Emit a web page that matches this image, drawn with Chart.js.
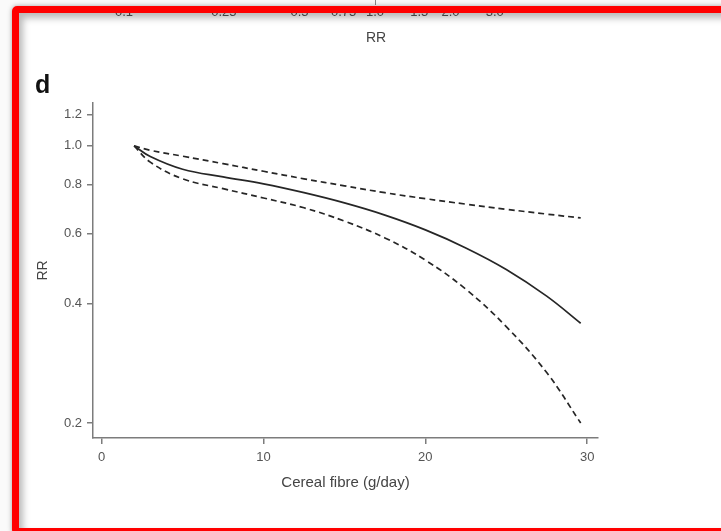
<!DOCTYPE html>
<html>
<head>
<meta charset="utf-8">
<script src="https://cdn.jsdelivr.net/npm/chart.js@4.4.0/dist/chart.umd.min.js"></script>
<style>
  body { margin: 0; background: #fff; }
  #wrap { position: relative; width: 721px; height: 531px; overflow: hidden; font-family: "Liberation Sans", Arial, sans-serif; background: #fafafa; }
  #inner { position: absolute; left: 12px; top: 6px; width: 760px; height: 529px; background: #fff; border-radius: 5px; }
  #c { position: absolute; left: 0; top: 0; }
  .frame { position: absolute; left: 12px; top: 6px; width: 760px; height: 529px; box-sizing: border-box;
           border: 7px solid #ff0000; border-radius: 5px; pointer-events: none;
           box-shadow: 0 0 5px rgba(0,0,0,.35), inset 4px 5px 7px rgba(0,0,0,.28); }
  .toptick { position: absolute; top: 4px; font-size: 13px; color: #555; transform: translateX(-50%); }
  .toprr { position: absolute; left: 376px; top: 29px; font-size: 14px; color: #444; transform: translateX(-50%); }
  .tickmark { position: absolute; left: 375px; top: 0; width: 1px; height: 5px; background: #888; }
  .panel { position: absolute; left: 35px; top: 72px; font-size: 25px; line-height: 25px; font-weight: bold; color: #111; }
</style>
</head>
<body>
<div id="wrap">
  <div id="inner"></div>
  <canvas id="c" width="721" height="531"></canvas>
  <div id="topLabels"></div>
  <div class="tickmark"></div>
  <div class="toprr">RR</div>
  <div class="panel">d</div>
  <div class="frame"></div>
</div>
<script>
// valores (RR frente a fibra de cereal)
const fibre = [2, 3, 5, 7.5, 10, 12.5, 15, 17.5, 20, 22.5, 25, 27.5, 29.6];
const rrEstimate = [1.0, 0.94, 0.873, 0.835, 0.802, 0.762, 0.718, 0.669, 0.614, 0.553, 0.488, 0.418, 0.357];
const rrUpper = [1.0, 0.975, 0.942, 0.902, 0.863, 0.826, 0.793, 0.762, 0.736, 0.713, 0.692, 0.673, 0.658];
const rrLower = [1.0, 0.91, 0.826, 0.78, 0.739, 0.698, 0.646, 0.586, 0.515, 0.435, 0.35, 0.268, 0.2];

const xTicks = [0, 10, 20, 30];
const yTicks = [0.2, 0.4, 0.6, 0.8, 1.0, 1.2];

// etiquetas cortadas del panel anterior (arriba)
const topTickLabels = ["0.1", "0.25", "0.5", "0.75", "1.0", "1.5", "2.0", "3.0"];
const topTickValues = [0.1, 0.25, 0.5, 0.75, 1.0, 1.5, 2.0, 3.0];

const topBox = document.getElementById("topLabels");
topTickValues.forEach((v, i) => {
  const d = document.createElement("div");
  d.className = "toptick";
  d.style.left = (375 + 251 * Math.log10(v)) + "px";
  d.textContent = topTickLabels[i];
  topBox.appendChild(d);
});

const fontFam = '"Liberation Sans", Arial, sans-serif';
const axisColor = "#7c7c7c";
const lineColor = "#262626";

function serie(values) {
  return fibre.map((x, i) => ({ x: x, y: values[i] }));
}

new Chart(document.getElementById("c"), {
  type: "line",
  data: {
    datasets: [
      { label: "RR", data: serie(rrEstimate), borderColor: lineColor, borderWidth: 1.7, pointRadius: 0, tension: 0.4 },
      { label: "IC superior", data: serie(rrUpper), borderColor: lineColor, borderWidth: 1.7, borderDash: [6, 4], pointRadius: 0, tension: 0.4 },
      { label: "IC inferior", data: serie(rrLower), borderColor: lineColor, borderWidth: 1.7, borderDash: [6, 4], pointRadius: 0, tension: 0.4 }
    ]
  },
  options: {
    responsive: false,
    animation: false,
    devicePixelRatio: 1,
    layout: { padding: { top: 103, right: 123, left: 0, bottom: 0 } },
    plugins: { legend: { display: false }, tooltip: { enabled: false } },
    scales: {
      x: {
        type: "linear",
        min: -0.54,
        max: 30.67,
        afterBuildTicks: (s) => { s.ticks = xTicks.map((v) => ({ value: v })); },
        afterFit: (s) => { s.height = 93; },
        grid: { drawOnChartArea: false, tickLength: 6, color: axisColor, lineWidth: 1.5 },
        border: { color: axisColor, width: 1.5 },
        ticks: { color: "#555", font: { size: 13, family: fontFam }, padding: 6, maxRotation: 0 },
        title: { display: true, text: "Cereal fibre (g/day)", color: "#444", font: { size: 15, family: fontFam }, padding: { top: 0, bottom: 39 } }
      },
      y: {
        type: "logarithmic",
        min: 0.1833,
        max: 1.283,
        afterBuildTicks: (s) => { s.ticks = yTicks.map((v) => ({ value: v })); },
        afterFit: (s) => { s.width = 93; },
        grid: { drawOnChartArea: false, tickLength: 6, color: axisColor, lineWidth: 1.5 },
        border: { color: axisColor, width: 1.5 },
        ticks: { color: "#555", font: { size: 13, family: fontFam }, padding: 5, callback: (v) => Number(v).toFixed(1) },
        title: { display: true, text: "RR", color: "#444", font: { size: 14, family: fontFam }, padding: { top: 35, bottom: 0 } }
      }
    }
  }
});
</script>
</body>
</html>
